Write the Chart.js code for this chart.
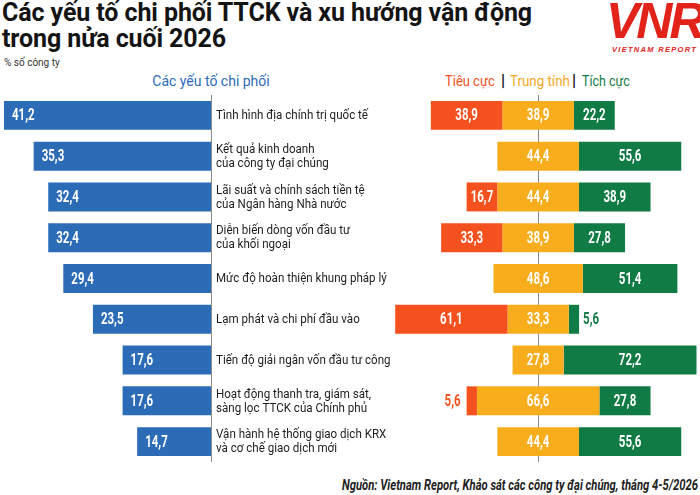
<!DOCTYPE html>
<html><head><meta charset="utf-8">
<script src="https://cdn.jsdelivr.net/npm/chart.js@4/dist/chart.umd.min.js"></script>
<style>
html,body{margin:0;padding:0;background:#fff;width:700px;height:495px;overflow:hidden;position:relative;font-family:Roboto,"Noto Sans",sans-serif;}
.abs{position:absolute;white-space:nowrap;}
#title{left:2px;top:0px;font-size:25px;font-weight:700;line-height:26px;color:#141414;letter-spacing:-0.1px;}
#unit{left:4px;top:57px;font-size:10px;color:#333;}
#hdrL{left:211px;top:73px;font-size:14px;color:#2c6cb7;transform:translateX(-50%);}
.hr{top:73px;font-size:14px;transform-origin:0 50%;}
.sep{top:71px;font-size:16px;font-weight:700;color:#111;}
#footer{right:2px;top:476px;font:italic 700 14px Roboto,"Noto Sans",sans-serif;line-height:18px;color:#222;transform-origin:100% 50%;}
#logo{left:606px;top:-8px;font:italic 900 50px "Liberation Sans",Arial,sans-serif;color:#e2231a;letter-spacing:-3px;}
#logoSub{left:612px;top:45px;font:italic 700 7.5px "Liberation Sans",Arial,sans-serif;color:#e2231a;letter-spacing:1.3px;}
#left{left:0;top:95px;width:420px;height:367px;}
#right{left:380px;top:95px;width:320px;height:367px;}
</style></head>
<body>
<div class="abs" id="title">Các yếu tố chi phối TTCK và xu hướng vận động<br>trong nửa cuối 2026</div>
<div class="abs" id="unit">% số công ty</div>
<div class="abs" id="hdrL">Các yếu tố chi phối</div>
<div class="abs hr" id="h1" data-w="50" style="left:445px;color:#f04e23">Tiêu cực</div>
<div class="abs sep" style="left:501px">|</div>
<div class="abs hr" id="h2" data-w="60" style="left:510px;color:#f5a81c">Trung tính</div>
<div class="abs sep" style="left:572px">|</div>
<div class="abs hr" id="h3" data-w="48" style="left:582px;color:#0e7a45">Tích cực</div>
<div class="abs" id="logo">VNR</div>
<div class="abs" id="logoSub">VIETNAM REPORT</div>
<div class="abs" id="left"><canvas id="cL"></canvas></div>
<div class="abs" id="right"><canvas id="cR"></canvas></div>
<div class="abs" id="footer">Nguồn: Vietnam Report, Khảo sát các công ty đại chúng, tháng 4-5/2026</div>
<script>
const categories = [
  ["Tình hình địa chính trị quốc tế"],
  ["Kết quả kinh doanh", "của công ty đại chúng"],
  ["Lãi suất và chính sách tiền tệ", "của Ngân hàng Nhà nước"],
  ["Diễn biến dòng vốn đầu tư", "của khối ngoại"],
  ["Mức độ hoàn thiện khung pháp lý"],
  ["Lạm phát và chi phí đầu vào"],
  ["Tiến độ giải ngân vốn đầu tư công"],
  ["Hoạt động thanh tra, giám sát,", "sàng lọc TTCK của Chính phủ"],
  ["Vận hành hệ thống giao dịch KRX", "và cơ chế giao dịch mới"]
];
const share    = [41.2, 35.3, 32.4, 32.4, 29.4, 23.5, 17.6, 17.6, 14.7];
const negative = [38.9, 0, 16.7, 33.3, 0, 61.1, 0, 5.6, 0];
const neutral  = [38.9, 44.4, 44.4, 38.9, 48.6, 33.3, 27.8, 66.6, 44.4];
const positive = [22.2, 55.6, 38.9, 27.8, 51.4, 5.6, 72.2, 27.8, 55.6];

const BLUE = '#2c6cb7', RED = '#f4511e', YEL = '#f8ad1c', GRN = '#107b45';
const NUMFONT = 'bold 16px Roboto, "Noto Sans", sans-serif';
const LBLFONT = '13px Roboto, "Noto Sans", sans-serif';
const fmt = v => v.toFixed(1).replace('.', ',');

// fit text widths to the reference
(function(){
  const f = document.getElementById('footer');
  f.style.transform = 'scaleX(' + (356 / f.offsetWidth) + ')';
  document.querySelectorAll('.hr').forEach(e => {
    e.style.transform = 'scaleX(' + (Number(e.dataset.w) / e.offsetWidth) + ')';
  });
})();

function condensedText(ctx, text, x, y, sx, align) {
  const w = ctx.measureText(text).width * sx;
  let x0 = x;
  if (align === 'center') x0 = x - w / 2; else if (align === 'right') x0 = x - w;
  ctx.save(); ctx.translate(x0, y); ctx.scale(sx, 1);
  ctx.textAlign = 'left'; ctx.fillText(text, 0, 0); ctx.restore();
}

const valueLabels = {
  id: 'valueLabels',
  afterDatasetsDraw(chart) {
    const ctx = chart.ctx;
    ctx.save();
    ctx.font = NUMFONT;
    ctx.textBaseline = 'middle';
    const sx = 22.6 / ctx.measureText('41,2').width;
    chart.data.datasets.forEach((ds, di) => {
      const meta = chart.getDatasetMeta(di);
      meta.data.forEach((el, i) => {
        const v = ds.rawValues[i];
        if (!v) return;
        const l = Math.min(el.x, el.base), r = Math.max(el.x, el.base);
        const y = el.y + 1;
        if (ds.labelMode === 'start') {
          ctx.fillStyle = '#fff';
          condensedText(ctx, fmt(v), l + 8, y, sx, 'left');
        } else if (r - l < 22) {
          ctx.fillStyle = ds.backgroundColor;
          if (ds.side === 'neg') condensedText(ctx, fmt(v), l - 6, y, sx, 'right');
          else condensedText(ctx, fmt(v), r + 4, y, sx, 'left');
        } else {
          ctx.fillStyle = '#fff';
          condensedText(ctx, fmt(v), (l + r) / 2, y, sx, 'center');
        }
      });
    });
    ctx.restore();
  }
};

const catLabels = {
  id: 'catLabels',
  afterDraw(chart) {
    const ys = chart.scales.y, ctx = chart.ctx;
    ctx.save();
    ctx.font = LBLFONT;
    ctx.fillStyle = '#1e1e1e';
    ctx.textBaseline = 'middle';
    const sx = 152 / ctx.measureText(categories[0][0]).width;
    const lh = 14;
    chart.data.labels.forEach((lines, i) => {
      const y = ys.getPixelForTick(i) + 0.5;
      lines.forEach((t, k) => {
        condensedText(ctx, t, ys.left + 5, y + (k - (lines.length - 1) / 2) * lh, sx, 'left');
      });
    });
    ctx.restore();
  }
};

const centerLine = {
  id: 'centerLine',
  beforeDatasetsDraw(chart) {
    const x = Math.round(chart.scales.x.getPixelForValue(0)) + 0.5;
    const a = chart.chartArea, ctx = chart.ctx;
    ctx.save(); ctx.strokeStyle = '#8a8a8a'; ctx.lineWidth = 1;
    ctx.beginPath(); ctx.moveTo(x, a.top); ctx.lineTo(x, a.bottom); ctx.stroke();
    ctx.restore();
  }
};

new Chart(document.getElementById('cL'), {
  type: 'bar',
  data: {
    labels: categories,
    datasets: [{ data: share, rawValues: share, labelMode: 'start', backgroundColor: BLUE,
      categoryPercentage: 1, barPercentage: 0.71 }]
  },
  options: {
    indexAxis: 'y', responsive: true, maintainAspectRatio: false, animation: false,
    layout: { padding: 0 },
    plugins: { legend: { display: false }, tooltip: { enabled: false } },
    scales: {
      x: { display: false, reverse: true, min: 0, max: 42 },
      y: { position: 'right', grid: { display: false, drawTicks: false },
        border: { display: true, color: '#8a8a8a', width: 1 },
        ticks: { display: false },
        afterFit: s => { s.width = 209; s.paddingTop = 0; s.paddingBottom = 0; } }
    }
  },
  plugins: [valueLabels, catLabels]
});

const negRange = negative.map((v, i) => v ? [-neutral[i] / 2 - v, -neutral[i] / 2] : null);
const neuRange = neutral.map(v => [-v / 2, v / 2]);
const posRange = positive.map((v, i) => v ? [neutral[i] / 2, neutral[i] / 2 + v] : null);

new Chart(document.getElementById('cR'), {
  type: 'bar',
  data: {
    labels: categories.map(c => c.join(' ')),
    datasets: [
      { data: negRange, rawValues: negative, side: 'neg', backgroundColor: RED, grouped: false, categoryPercentage: 1, barPercentage: 0.71 },
      { data: neuRange, rawValues: neutral, side: 'neu', backgroundColor: YEL, grouped: false, categoryPercentage: 1, barPercentage: 0.71 },
      { data: posRange, rawValues: positive, side: 'pos', backgroundColor: GRN, grouped: false, categoryPercentage: 1, barPercentage: 0.71 }
    ]
  },
  options: {
    indexAxis: 'y', responsive: true, maintainAspectRatio: false, animation: false,
    layout: { padding: 0 },
    plugins: { legend: { display: false }, tooltip: { enabled: false } },
    scales: {
      x: { display: false, min: -86, max: 88 },
      y: { display: false }
    }
  },
  plugins: [centerLine, valueLabels]
});
</script>
</body></html>
